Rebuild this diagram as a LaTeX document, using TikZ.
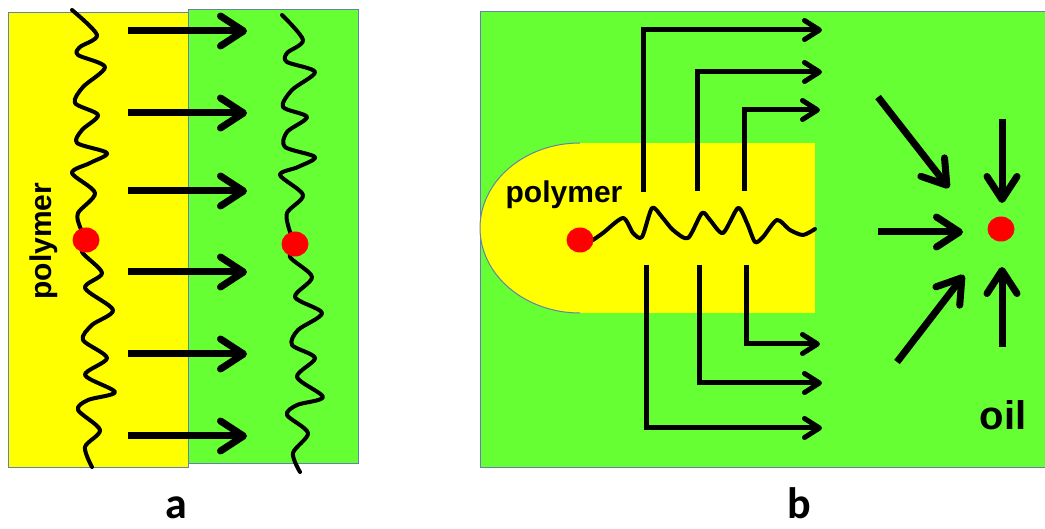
\documentclass[tikz,border=0pt]{standalone}
\usepackage{fontspec}
\newfontfamily\lsans{Liberation Sans}
\newfontfamily\carl{Carlito}
\usetikzlibrary{arrows.meta,shapes.geometric}
\definecolor{grn}{RGB}{102,255,51}
\definecolor{ylw}{RGB}{255,255,0}
\definecolor{brd}{RGB}{100,130,170}
\tikzset{
  panelbox/.style={draw=brd, line width=1pt},
  chain/.style={line width=4pt, line join=round, line cap=round},
  dot/.style={ellipse, fill=red, inner sep=0pt, minimum width=27pt, minimum height=25pt},
  bigarrow/.style={line width=7pt, -{Straight Barb[length=23pt,width=30pt,round]}},
  bentarrow/.style={line width=5pt, -{Straight Barb[length=15pt,width=19pt,round]}},
  lbl/.style={font=\lsans\bfseries, inner sep=0pt},
  panellbl/.style={font=\carl\bfseries\fontsize{44}{44}\selectfont, inner sep=0pt, anchor=base},
}
\begin{document}
\begin{tikzpicture}[x=1pt,y=-1pt]
\useasboundingbox (0,0) rectangle (1045,529);
% ---------- panel a ----------
\fill[ylw] (8,13) rectangle (188,467);
\draw[panelbox] (8,13) rectangle (188,467);
\filldraw[fill=grn, panelbox] (188,10) rectangle (358,463);
\foreach \y in {31,113,191,272,354,436}{
  \coordinate (as\y) at (128,\y);
  \coordinate (ae\y) at (247,\y);
  \draw[bigarrow] (as\y) -- (ae\y);
}
\draw[chain] plot[smooth, tension=0.5] coordinates {
 (72,10) (97,35) (80,47) (78,55) (105,67) (83,87) (75,103) (98,115) (82,130)
 (77,143) (107,153) (90,163) (72,173) (95,193) (78,213) (80,227) (86,240)
 (82,252) (102,273) (85,288) (113,310) (92,325) (83,340) (107,358) (85,375)
 (115,392) (88,400) (78,410) (100,430) (85,447) (92,467)};
\draw[chain] plot[smooth, tension=0.5] coordinates {
 (282,15) (303,40) (287,53) (287,62) (315,72) (292,90) (283,107) (307,117)
 (287,132) (285,147) (315,157) (298,167) (280,175) (303,195) (287,213)
 (290,232) (295,244) (290,257) (312,277) (295,297) (322,313) (298,330)
 (292,345) (315,358) (297,377) (323,397) (297,405) (287,415) (308,433)
 (293,453) (300,472)};
\node[dot] (dotA1) at (86,240) {};
\node[dot] (dotA2) at (295,244) {};
\node[lbl, font=\lsans\bfseries\fontsize{30}{30}\selectfont, rotate=90] (polyA) at (44,241) {polymer};
\node[panellbl] (labA) at (176,518) {a};
% ---------- panel b ----------
\filldraw[fill=grn, panelbox] (480,12) rectangle (1045,467);
\fill[ylw] (580,143) rectangle (815,313);
\fill[ylw] (580,143) arc[start angle=270, end angle=90, x radius=100, y radius=85] -- cycle;
\draw[brd, line width=1pt] (580,143) arc[start angle=270, end angle=90, x radius=100, y radius=85];
\draw[chain] plot[smooth, tension=0.45] coordinates {
 (593,240) (603,233) (623,218) (633,233) (642,237) (652,208) (662,217)
 (673,230) (688,238) (702,213) (710,220) (723,233) (738,208) (747,223)
 (755,242) (763,237) (777,220) (790,230) (803,235) (815,229)};
\node[dot] (dotB1) at (580,240) {};
\node[lbl, font=\lsans\bfseries\fontsize{30}{30}\selectfont, anchor=base] (polyB) at (564,203) {polymer};
% bent arrows
\coordinate (t1s) at (643,192); \coordinate (t1e) at (822,30);
\coordinate (t2s) at (697,191); \coordinate (t2e) at (822,72);
\coordinate (t3s) at (744,191); \coordinate (t3e) at (820,110);
\coordinate (b1s) at (646,265); \coordinate (b1e) at (822,428);
\coordinate (b2s) at (699,265); \coordinate (b2e) at (822,383);
\coordinate (b3s) at (746,265); \coordinate (b3e) at (820,344);
\foreach \p in {t1,t2,t3,b1,b2,b3}{
  \draw[bentarrow] (\p s) |- (\p e);
}
% oil droplet and converging arrows
\node[dot] (dotB2) at (1001,229) {};
\coordinate (r1s) at (878,97);   \coordinate (r1e) at (949,188);
\coordinate (r2s) at (1002,119); \coordinate (r2e) at (1002,203);
\coordinate (r3s) at (878,232);  \coordinate (r3e) at (963,232);
\coordinate (r4s) at (897,362);  \coordinate (r4e) at (964,275);
\coordinate (r5s) at (1002,347); \coordinate (r5e) at (1002,267);
\foreach \p in {r1,r2,r3,r4,r5}{
  \draw[bigarrow] (\p s) -- (\p e);
}
\node[lbl, font=\lsans\bfseries\fontsize{40}{40}\selectfont, anchor=base] (oil) at (1003,430) {oil};
\node[panellbl] (labB) at (799,518) {b};
\end{tikzpicture}
\end{document}
